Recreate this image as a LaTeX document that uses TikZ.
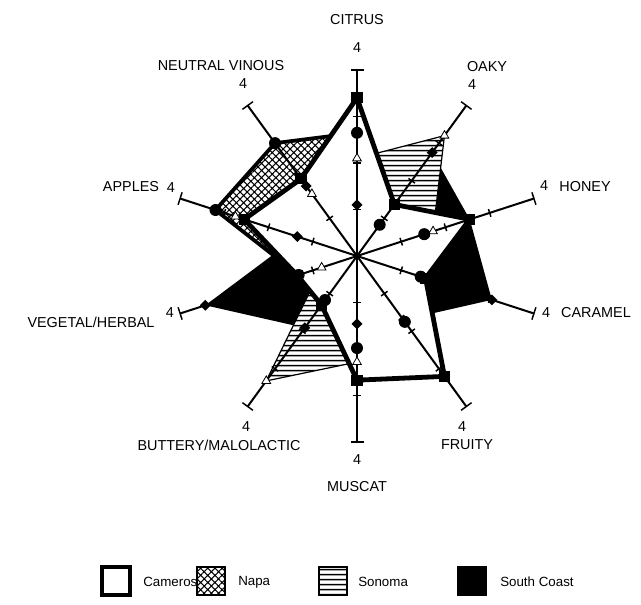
\documentclass[tikz,border=0pt]{standalone}
\usepackage{fontspec}
\setmainfont{Liberation Sans}
\usetikzlibrary{patterns.meta,shapes.geometric}
\begin{document}
\begin{tikzpicture}[x=0.75pt,y=-0.75pt,
  lab/.style={font=\fontsize{10.8}{12}\selectfont, inner sep=0pt},
  leglab/.style={font=\fontsize{10}{12}\selectfont, inner sep=0pt, anchor=west},
  sq/.style={rectangle, fill=black, inner sep=0pt, minimum size=8.3pt},
  dot/.style={circle, fill=black, inner sep=0pt, minimum size=9pt},
  dia/.style={diamond, fill=black, inner sep=0pt, minimum width=8.3pt, minimum height=8.3pt},
  tri/.style={regular polygon, regular polygon sides=3, draw=black, fill=white, line width=0.6pt, inner sep=0pt, minimum size=7.5pt},
  axisline/.style={line width=1.5pt},
  tickmark/.style={line width=1.1pt},
  sonoma/.style={pattern={Lines[angle=0,distance=4pt,line width=1.2pt]}},
  napa/.style={pattern={Hatch[angle=45,distance=3.8pt,line width=0.8pt]}},
  legbox/.style={rectangle, inner sep=0pt, minimum size=21pt, draw=black, line width=1pt}
]
\useasboundingbox (0,0) rectangle (641,604);
\fill[white] (0,0) rectangle (641,604);

\begin{scope}[shift={(357,256)},y=0.75pt]
\def\U{46.5}
% data coordinates: K=Cameros, N=Napa, S=Sonoma, C=South Coast
\foreach \i/\a/\k/\n/\s/\c in {
  1/90/3.4/2.65/2.1/1.1,
  2/54/1.37/0.83/3.2/2.75,
  3/18/2.55/1.52/1.72/2.55,
  4/-18/1.55/1.44/1.45/3.05,
  5/-54/3.2/1.75/1.75/1.7,
  6/-90/2.67/1.98/2.28/1.46,
  7/-126/1.3/1.17/3.32/1.91,
  8/-162/1.35/1.32/0.8/3.43,
  9/162/2.55/3.2/2.75/1.35,
  10/126/2.05/3.0/1.65/1.86}{
  \coordinate (K\i) at (\a:{\k*\U});
  \coordinate (N\i) at (\a:{\n*\U});
  \coordinate (S\i) at (\a:{\s*\U});
  \coordinate (C\i) at (\a:{\c*\U});
}
% South Coast
\fill[black] (C1)--(C2)--(C3)--(C4)--(C5)--(C6)--(C7)--(C8)--(C9)--(C10)--cycle;
% Sonoma
\fill[white] (S1)--(S2)--(S3)--(S4)--(S5)--(S6)--(S7)--(S8)--(S9)--(S10)--cycle;
\path[sonoma] (S1)--(S2)--(S3)--(S4)--(S5)--(S6)--(S7)--(S8)--(S9)--(S10)--cycle;
\draw[line width=0.9pt,line join=round] (S1)--(S2)--(S3)--(S4)--(S5)--(S6)--(S7)--(S8)--(S9)--(S10)--cycle;
% Napa
\fill[white] (N1)--(N2)--(N3)--(N4)--(N5)--(N6)--(N7)--(N8)--(N9)--(N10)--cycle;
\path[napa] (N1)--(N2)--(N3)--(N4)--(N5)--(N6)--(N7)--(N8)--(N9)--(N10)--cycle;
\draw[line width=2.8pt,line join=round] (N1)--(N2)--(N3)--(N4)--(N5)--(N6)--(N7)--(N8)--(N9)--(N10)--cycle;
% Cameros
\filldraw[fill=white,line width=3.6pt,line join=round] (K1)--(K2)--(K3)--(K4)--(K5)--(K6)--(K7)--(K8)--(K9)--(K10)--cycle;
% axes
\foreach \a in {90,54,18,-18,-54,-90,-126,-162,162,126}{
  \begin{scope}[rotate=\a]
    \draw[axisline] (0,0) -- (186,0);
    \foreach \t in {46.5,93,139.5} \draw[tickmark] (\t,-4) -- (\t,4);
    \draw[tickmark] (186,-6.5) -- (186,6.5);
  \end{scope}
}
% markers
\foreach \i in {1,...,10} \node[tri] (mS\i) at (S\i) {};
\foreach \i in {1,...,10} \node[dia] (mC\i) at (C\i) {};
\foreach \i in {1,...,10} \node[dot] (mN\i) at (N\i) {};
\foreach \i in {1,...,10} \node[sq] (mK\i) at (K\i) {};
\end{scope}

% axis labels
\node[lab] (tCIT) at (357,20) {CITRUS};
\node[lab] (fCIT) at (357,48) {4};
\node[lab] (tOAK) at (487,67) {OAKY};
\node[lab] (fOAK) at (472,85) {4};
\node[lab] (tHON) at (585,187) {HONEY};
\node[lab] (fHON) at (544,186) {4};
\node[lab] (tCAR) at (596,313) {CARAMEL};
\node[lab] (fCAR) at (546,313) {4};
\node[lab] (tFRU) at (467,445) {FRUITY};
\node[lab] (fFRU) at (462,427) {4};
\node[lab] (tMUS) at (357,487) {MUSCAT};
\node[lab] (fMUS) at (357,460) {4};
\node[lab] (tBUT) at (219,445) {BUTTERY/MALOLACTIC};
\node[lab] (fBUT) at (246,427) {4};
\node[lab] (tVEG) at (91,322) {VEGETAL/HERBAL};
\node[lab] (fVEG) at (170,313) {4};
\node[lab] (tAPP) at (131,187) {APPLES};
\node[lab] (fAPP) at (171,188) {4};
\node[lab] (tNV) at (221,66) {NEUTRAL VINOUS};
\node[lab] (fNV) at (243,84) {4};

% legend
\node[legbox, fill=white, line width=3pt] (lK) at (116,581) {};
\node[leglab] (ltK) at (143,582) {Cameros};
\node[legbox, preaction={fill=white}, napa] (lN) at (211,581) {};
\node[leglab] (ltN) at (238,582) {Napa};
\node[legbox, preaction={fill=white}, sonoma] (lS) at (333,581) {};
\node[leglab] (ltS) at (358,582) {Sonoma};
\node[legbox, fill=black] (lC) at (472,581) {};
\node[leglab] (ltC) at (500,582) {South Coast};
\end{tikzpicture}
\end{document}
